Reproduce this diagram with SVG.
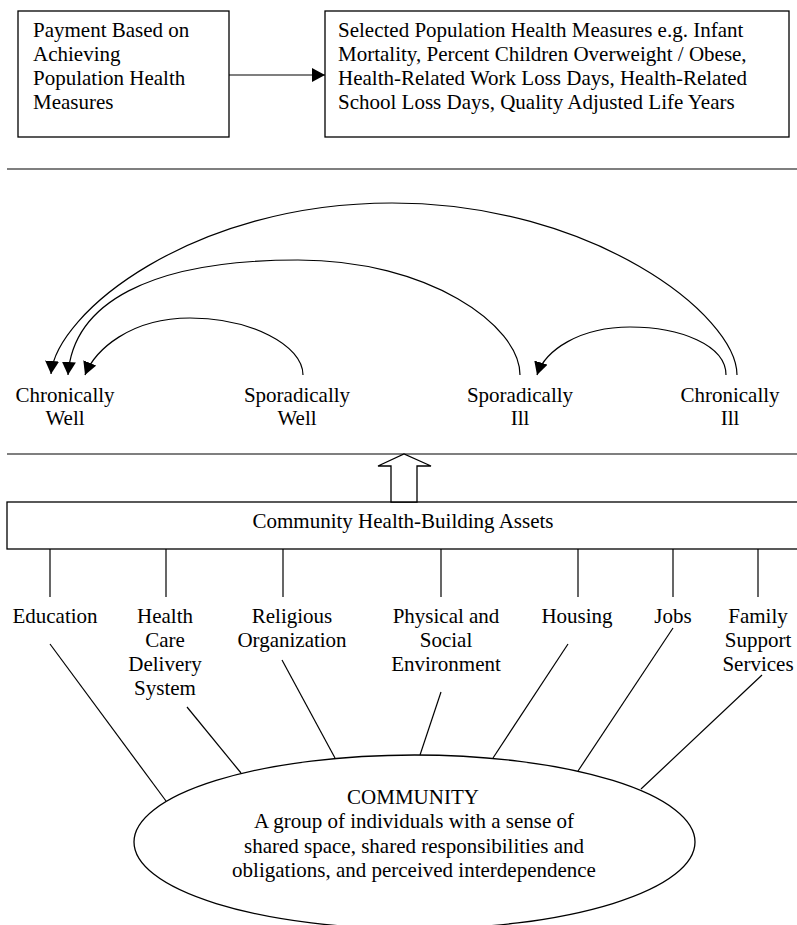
<svg xmlns="http://www.w3.org/2000/svg" width="797" height="925" viewBox="0 0 797 925">
<style>
  text { font-family: "Liberation Serif", "Times New Roman", serif; font-size: 21px; fill: #000; }
  .c { text-anchor: middle; }
  .box { fill: #fff; stroke: #000; stroke-width: 1.3; }
  .ln { fill: none; stroke: #000; stroke-width: 1.2; }
  .arr { fill: none; stroke: #000; stroke-width: 1.2; marker-end: url(#ah); }
</style>
<defs>
  <marker id="ah" markerUnits="userSpaceOnUse" markerWidth="15" markerHeight="15" refX="13" refY="7" orient="auto">
    <path d="M0,0 L13,7 L0,14 z" fill="#000"/>
  </marker>
</defs>
<rect width="797" height="925" fill="#fff"/>

<g id="payment">
  <rect class="box" x="18" y="11" width="211" height="126"/>
  <text x="33" y="37">Payment Based on</text>
  <text x="33" y="61">Achieving</text>
  <text x="33" y="85">Population Health</text>
  <text x="33" y="109">Measures</text>
</g>
<g id="measures">
  <rect class="box" x="325" y="11" width="464" height="126"/>
  <text x="338" y="37">Selected Population Health Measures e.g. Infant</text>
  <text x="338" y="61">Mortality, Percent Children Overweight / Obese,</text>
  <text x="338" y="85">Health-Related Work Loss Days, Health-Related</text>
  <text x="338" y="109">School Loss Days, Quality Adjusted Life Years</text>
</g>

<g id="separators">
  <line class="ln" x1="7" y1="169" x2="797" y2="169"/>
  <line class="ln" x1="7" y1="454" x2="797" y2="454"/>
</g>

<g id="chronically-well">
  <text class="c" x="65" y="402">Chronically</text>
  <text class="c" x="65" y="425">Well</text>
</g>
<g id="sporadically-well">
  <text class="c" x="297" y="402">Sporadically</text>
  <text class="c" x="297" y="425">Well</text>
</g>
<g id="sporadically-ill">
  <text class="c" x="520" y="402">Sporadically</text>
  <text class="c" x="520" y="425">Ill</text>
</g>
<g id="chronically-ill">
  <text class="c" x="730" y="402">Chronically</text>
  <text class="c" x="730" y="425">Ill</text>
</g>

<g id="assets">
  <rect class="box" x="7" y="502" width="800" height="47"/>
  <text class="c" x="403" y="528">Community Health-Building Assets</text>
</g>

<g id="education"><text class="c" x="55" y="623">Education</text></g>
<g id="health-care">
  <text class="c" x="165" y="623">Health</text>
  <text class="c" x="165" y="647">Care</text>
  <text class="c" x="165" y="671">Delivery</text>
  <text class="c" x="165" y="695">System</text>
</g>
<g id="religious">
  <text class="c" x="292" y="623">Religious</text>
  <text class="c" x="292" y="647">Organization</text>
</g>
<g id="physical">
  <text class="c" x="446" y="623">Physical and</text>
  <text class="c" x="446" y="647">Social</text>
  <text class="c" x="446" y="671">Environment</text>
</g>
<g id="housing"><text class="c" x="577" y="623">Housing</text></g>
<g id="jobs"><text class="c" x="673" y="623">Jobs</text></g>
<g id="family">
  <text class="c" x="758" y="623">Family</text>
  <text class="c" x="758" y="647">Support</text>
  <text class="c" x="758" y="671">Services</text>
</g>

<g id="community">
  <ellipse class="box" cx="414.5" cy="842" rx="280.5" ry="87"/>
  <text class="c" x="413" y="804">COMMUNITY</text>
  <text class="c" x="414" y="828">A group of individuals with a sense of</text>
  <text class="c" x="414" y="853">shared space, shared responsibilities and</text>
  <text class="c" x="414" y="877">obligations, and perceived interdependence</text>
</g>

<g id="connectors">
  <line class="arr" x1="229" y1="75" x2="325" y2="75"/>
  <path class="arr" d="M737,375 C737,315 592,203 392,203 C192,203 56,313 51,374"/>
  <path class="arr" d="M520,375 C520,325 428,260 298,260 C148,260 73,304 68,375"/>
  <path class="arr" d="M303,375 C303,345 250,318 190,318 C130,318 95,350 85,375"/>
  <path class="arr" d="M726,375 C726,345 680,327 630,327 C580,327 545,350 537,375"/>
  <polygon class="box" points="391,502 391,466 378,466 404,454 431,466 417,466 417,502"/>
  <line class="ln" x1="50" y1="549" x2="50" y2="597"/>
  <line class="ln" x1="166" y1="549" x2="166" y2="597"/>
  <line class="ln" x1="283" y1="549" x2="283" y2="597"/>
  <line class="ln" x1="441" y1="549" x2="441" y2="597"/>
  <line class="ln" x1="578" y1="549" x2="578" y2="597"/>
  <line class="ln" x1="673" y1="549" x2="673" y2="597"/>
  <line class="ln" x1="758" y1="549" x2="758" y2="597"/>
  <line class="ln" x1="50" y1="644" x2="166" y2="801"/>
  <line class="ln" x1="187" y1="707" x2="241" y2="773"/>
  <line class="ln" x1="282" y1="660" x2="335" y2="758"/>
  <line class="ln" x1="441" y1="692" x2="420" y2="755"/>
  <line class="ln" x1="568" y1="644" x2="493" y2="758"/>
  <line class="ln" x1="673" y1="628" x2="578" y2="771"/>
  <line class="ln" x1="762" y1="675" x2="641" y2="789"/>
</g>
</svg>
